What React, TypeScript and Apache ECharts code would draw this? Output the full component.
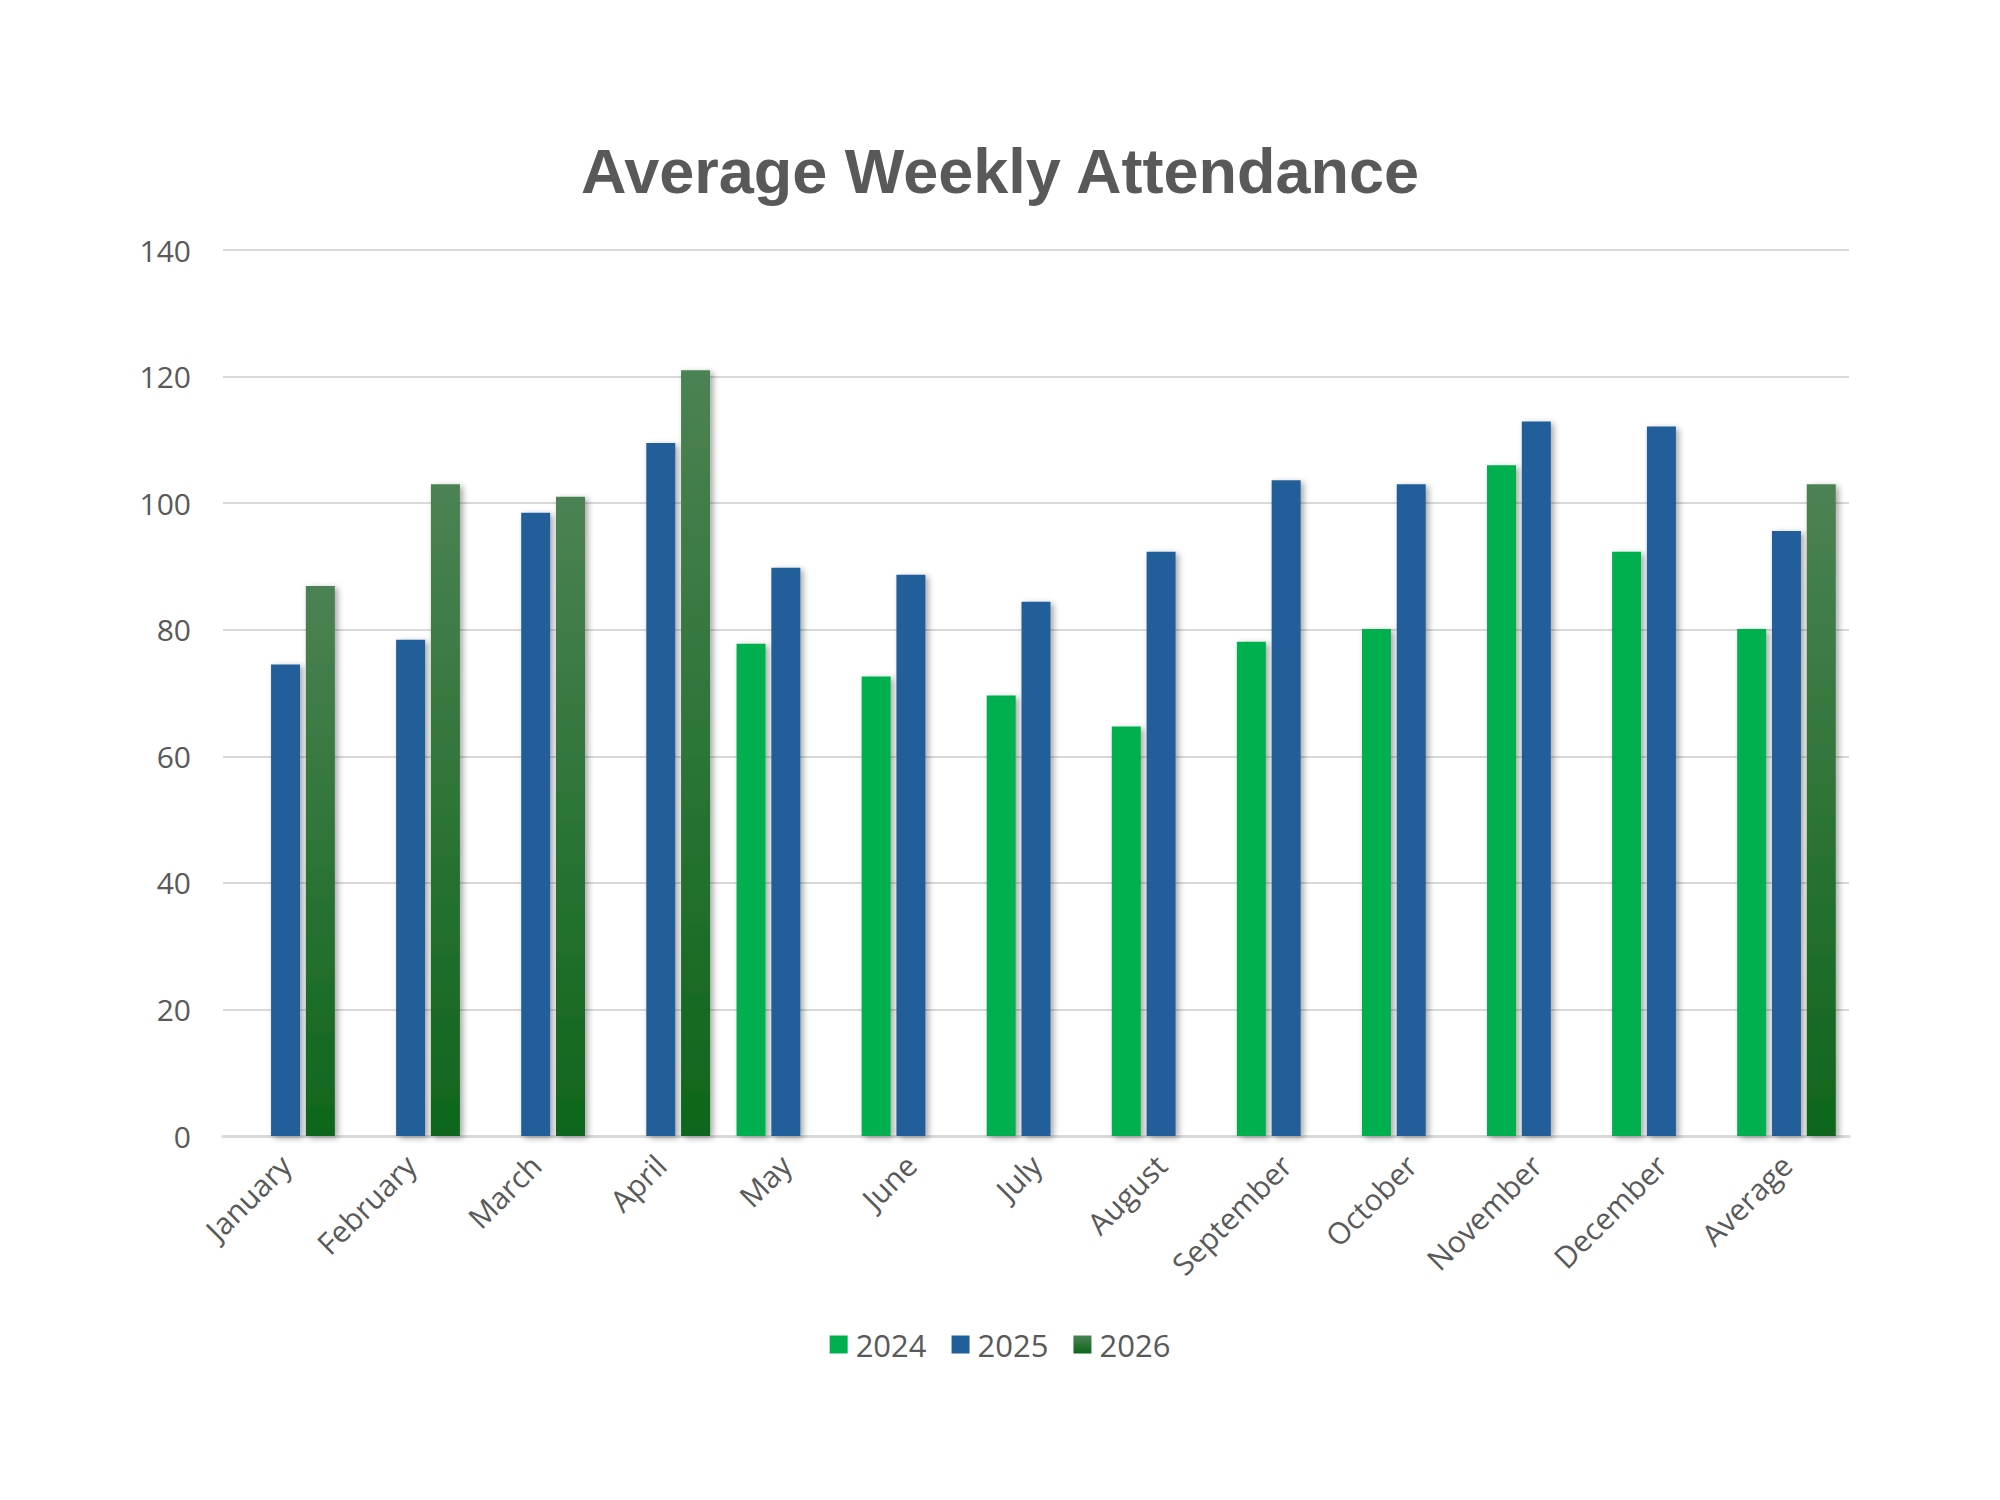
import * as echarts from "echarts";
import { useEffect, useRef } from "react";

const categories = [
	"January",
	"February",
	"March",
	"April",
	"May",
	"June",
	"July",
	"August",
	"September",
	"October",
	"November",
	"December",
	"Average",
];

const seriesNames = ["2024", "2025", "2026"];

const values2024 = [null, null, null, null, 77.8, 72.6, 69.6, 64.7, 78.1, 80.1, 106, 92.3, 80.1];
const values2025 = [74.5, 78.4, 98.5, 109.5, 89.8, 88.7, 84.4, 92.3, 103.6, 103, 112.9, 112.1, 95.6];
const values2026 = [86.9, 103, 101, 121, null, null, null, null, null, null, null, null, 103];

const TITLE_FONT = "Liberation Sans, Arial, sans-serif";
const FONT = "Open Sans, Liberation Sans, sans-serif";
const TEXT = "#595959";

export default function App() {
	const chartRef = useRef<HTMLDivElement>(null);

	useEffect(() => {
		document.body.style.margin = "0";
		if (!chartRef.current) return;
		const chart = echarts.init(chartRef.current, null, { renderer: "svg" });

		const shadow = {
			shadowBlur: 6,
			shadowOffsetX: 3,
			shadowOffsetY: 2,
			shadowColor: "rgba(0,0,0,0.35)",
		};

		chart.setOption({
			animation: false,
			backgroundColor: "#ffffff",
			textStyle: { fontFamily: FONT },
			title: {
				text: "Average Weekly Attendance",
				left: "center",
				top: 134,
				textStyle: {
					fontFamily: TITLE_FONT,
					fontSize: 63,
					fontWeight: "bold",
					color: TEXT,
				},
			},
			legend: {
				bottom: 135,
				left: "center",
				itemWidth: 18,
				itemHeight: 18,
				itemGap: 25,
				icon: "rect",
				textStyle: { fontFamily: FONT, fontSize: 31, color: TEXT, padding: [0, 0, 0, 3] },
				data: seriesNames,
			},
			grid: { left: 223, right: 151, top: 250, bottom: 364, containLabel: false },
			xAxis: {
				type: "category",
				data: categories,
				axisLine: { lineStyle: { color: "#d9d9d9", width: 3 } },
				axisTick: { show: false },
				axisLabel: {
					rotate: 45,
					margin: 24,
					interval: 0,
					fontFamily: FONT,
					fontSize: 30,
					color: TEXT,
				},
			},
			yAxis: {
				type: "value",
				min: 0,
				max: 140,
				interval: 20,
				axisLine: { show: false },
				axisTick: { show: false },
				axisLabel: { margin: 32, fontFamily: FONT, fontSize: 30, color: TEXT },
				splitLine: { lineStyle: { color: "#d9d9d9", width: 2 } },
			},
			series: [
				{
					name: seriesNames[0],
					type: "bar",
					data: values2024,
					barWidth: 29,
					barGap: "20%",
					itemStyle: { color: "#00B050", ...shadow },
				},
				{
					name: seriesNames[1],
					type: "bar",
					data: values2025,
					barWidth: 29,
					barGap: "20%",
					itemStyle: { color: "#215F9A", ...shadow },
				},
				{
					name: seriesNames[2],
					type: "bar",
					data: values2026,
					barWidth: 29,
					barGap: "20%",
					itemStyle: {
						color: new echarts.graphic.LinearGradient(0, 0, 0, 1, [
							{ offset: 0, color: "#4C8253" },
							{ offset: 1, color: "#0E661B" },
						]),
						...shadow,
					},
				},
			],
		});

		return () => {
			chart.dispose();
		};
	}, []);

	return <div ref={chartRef} style={{ width: 2000, height: 1500 }} />;
}
